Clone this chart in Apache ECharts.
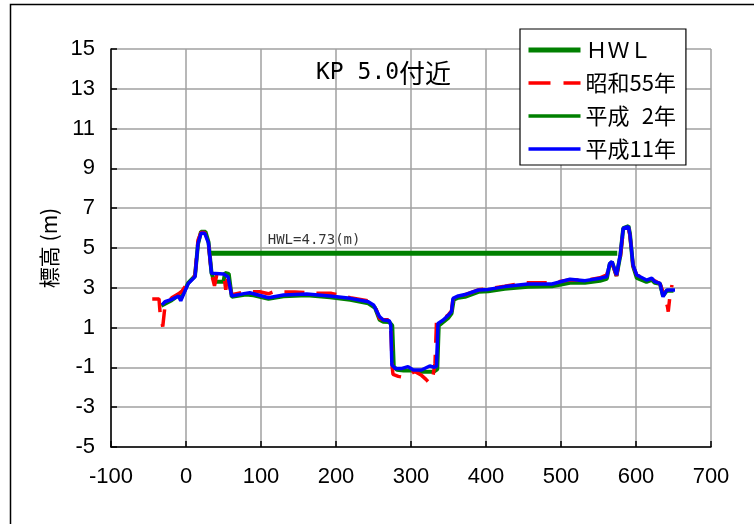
<!DOCTYPE html>
<html>
<head>
<meta charset="utf-8">
<script src="https://cdn.jsdelivr.net/npm/echarts@6/dist/echarts.min.js"></script>
<style>html,body{margin:0;padding:0;background:#fff}#c{width:754px;height:524px}</style>
</head>
<body>
<div id="c"></div>
<script>
var xTicks = {min: -100, max: 700, step: 100};
var yTicks = {min: -5, max: 15, step: 2};

var hwlX = [33, 575];
var hwlY = [4.73, 4.73];
var hwlLabelPos = [109, 5.40];

var s55X = [-45, -36, -34.5, -31, -30, -28, -19, -10, -5, 3, 12, 16, 20, 25, 30, 34, 36, 38, 41, 48, 51, 53, 55, 57, 61, 80, 98, 110, 116, 145, 174, 194, 219, 243, 252, 258, 263, 271, 273, 275, 276, 283, 290, 296, 305, 314, 320, 325, 329, 332, 334, 343, 350, 354, 356, 363, 372, 390, 403, 425, 453, 490, 512, 532, 552, 561, 565, 568, 574, 579, 583, 590, 592, 596, 601, 614, 621, 625, 632, 638, 642, 643, 645, 648];
var s55Y = [2.44, 2.44, 1.72, 1.05, 1.10, 2.09, 2.50, 2.70, 2.85, 3.30, 3.60, 5.40, 5.78, 5.78, 5.20, 3.70, 3.60, 3.10, 3.65, 3.65, 3.50, 2.90, 3.60, 3.50, 2.65, 2.80, 2.80, 2.70, 2.79, 2.79, 2.72, 2.72, 2.50, 2.35, 2.10, 1.45, 1.40, 1.40, 1.10, -1.00, -1.35, -1.45, -1.50, -1.40, -1.20, -1.40, -1.60, -1.80, -1.50, -0.80, 1.30, 1.45, 1.65, 1.85, 2.45, 2.55, 2.65, 2.90, 2.95, 3.08, 3.26, 3.26, 3.40, 3.38, 3.50, 3.65, 4.20, 4.25, 3.60, 4.50, 5.90, 6.00, 5.60, 4.10, 3.65, 3.40, 3.45, 3.35, 3.20, 2.60, 2.05, 1.80, 2.50, 3.14];

var h2X = [-33, -19, -10, -7, 3, 12, 16, 20, 26, 30, 34, 38, 50, 52, 57, 61, 80, 90, 110, 130, 161, 192, 219, 243, 252, 258, 263, 271, 275, 277, 281, 290, 300, 314, 330, 335, 337, 343, 350, 354, 357, 363, 372, 390, 403, 425, 456, 488, 512, 532, 552, 561, 565, 568, 574, 579, 583, 590, 592, 596, 601, 614, 621, 625, 632, 636, 641, 650];
var h2Y = [2.10, 2.38, 2.62, 2.45, 3.25, 3.60, 5.20, 5.82, 5.82, 5.30, 3.75, 3.30, 3.30, 3.75, 3.70, 2.55, 2.66, 2.62, 2.45, 2.58, 2.62, 2.52, 2.40, 2.22, 2.00, 1.40, 1.30, 1.28, 1.10, -0.95, -1.12, -1.15, -1.15, -1.22, -1.22, -1.10, 1.10, 1.28, 1.50, 1.70, 2.40, 2.50, 2.55, 2.80, 2.83, 2.95, 3.05, 3.08, 3.25, 3.25, 3.35, 3.45, 4.20, 4.30, 3.60, 4.60, 6.00, 6.10, 5.70, 4.10, 3.50, 3.30, 3.40, 3.25, 3.20, 2.60, 2.85, 2.85];

var h11X = [-32, -28, -19, -10, -7, 3, 12, 16, 20, 25, 30, 34, 50, 56, 61, 79, 85, 110, 130, 161, 192, 219, 243, 250, 258, 263, 271, 273, 274.5, 279, 288, 296, 303, 314, 325, 330, 334, 336, 343, 350, 354, 356, 363, 372, 390, 403, 425, 456, 488, 512, 532, 552, 561, 565, 568, 574, 579, 583, 590, 592, 596, 601, 614, 621, 625, 632, 636, 641, 652];
var h11Y = [2.14, 2.30, 2.42, 2.59, 2.35, 3.22, 3.56, 5.24, 5.74, 5.74, 5.24, 3.73, 3.69, 3.56, 2.59, 2.72, 2.75, 2.50, 2.64, 2.69, 2.59, 2.47, 2.30, 2.14, 1.55, 1.38, 1.35, 1.13, -0.88, -1.05, -1.05, -0.96, -1.13, -1.13, -0.93, -0.99, -0.96, 1.21, 1.38, 1.63, 1.80, 2.47, 2.59, 2.66, 2.89, 2.92, 3.06, 3.19, 3.19, 3.43, 3.36, 3.48, 3.56, 4.23, 4.31, 3.64, 4.65, 5.99, 6.07, 5.65, 4.15, 3.64, 3.39, 3.48, 3.31, 3.22, 2.55, 2.89, 2.89];

var names = ['ＨＷＬ', '昭和55年', '平成\u20072年', '平成11年'];

function zip(xs, ys) { return xs.map(function (x, i) { return [x, ys[i]]; }); }

var chart = echarts.init(document.getElementById('c'), null, {renderer: 'canvas'});
var axisFont = 'Liberation Sans, Arial, sans-serif';
var gridColor = '#a0a0a0';

chart.setOption({
  animation: false,
  backgroundColor: '#fff',
  title: {
    text: '{a|KP 5.0}{b|付近}',
    left: 311, top: 55,
    textStyle: {
      fontWeight: 'normal',
      rich: {
        a: {fontFamily: 'DejaVu Sans Mono', fontSize: 23, fontWeight: 'normal', color: '#000'},
        b: {fontFamily: 'Noto Sans CJK JP', fontSize: 26, fontWeight: 'normal', color: '#000'}
      }
    }
  },
  graphic: [{
    type: 'rect', left: 8, top: 2, silent: true,
    shape: {x: 0, y: 0, width: 800, height: 600},
    style: {fill: 'none', stroke: '#000', lineWidth: 1.5}
  }],
  legend: {
    data: [
      {name: names[0], lineStyle: {width: 5, color: '#008000'}},
      {name: names[1], lineStyle: {width: 3.5, color: '#ff0000', type: [22, 13]}},
      {name: names[2], lineStyle: {width: 3.5, color: '#008000'}},
      {name: names[3], lineStyle: {width: 3.5, color: '#0000ff'}}
    ],
    orient: 'vertical',
    left: 520, top: 29,
    padding: [10, 10, 5, 6],
    itemGap: 11,
    itemWidth: 52, itemHeight: 14,
    itemStyle: {opacity: 0},
    backgroundColor: '#fff',
    borderColor: '#000', borderWidth: 1.2, borderRadius: 0,
    textStyle: {fontFamily: 'Noto Sans CJK JP', fontSize: 22, color: '#000', lineHeight: 20},
    selectedMode: false
  },
  grid: {left: 111, right: 43, top: 49, bottom: 77, containLabel: false},
  xAxis: {
    type: 'value', min: xTicks.min, max: xTicks.max, interval: xTicks.step,
    axisLine: {show: true, onZero: false, lineStyle: {color: '#000', width: 1.5}},
    axisTick: {show: true, inside: true, length: 6, lineStyle: {color: '#000', width: 1.5}},
    axisLabel: {fontFamily: axisFont, fontSize: 22, color: '#000', margin: 19},
    splitLine: {show: true, lineStyle: {color: gridColor, width: 1.5}}
  },
  yAxis: {
    type: 'value', min: yTicks.min, max: yTicks.max, interval: yTicks.step,
    name: '標高 (m)', nameLocation: 'middle', nameGap: 50, nameRotate: 90,
    nameTextStyle: {fontFamily: 'Noto Sans CJK JP', fontSize: 21, color: '#000'},
    axisLine: {show: true, onZero: false, lineStyle: {color: '#000', width: 1.5}},
    axisTick: {show: true, inside: true, length: 6, lineStyle: {color: '#000', width: 1.5}},
    axisLabel: {fontFamily: axisFont, fontSize: 22, color: '#000', margin: 16},
    splitLine: {show: true, lineStyle: {color: gridColor, width: 1.5}}
  },
  series: [
    {
      name: names[0], type: 'line', data: zip(hwlX, hwlY), symbol: 'none',
      lineStyle: {color: '#008000', width: 5}, itemStyle: {color: '#008000'}
    },
    {
      name: names[2], type: 'line', data: zip(h2X, h2Y), symbol: 'none',
      lineStyle: {color: '#008000', width: 4}, itemStyle: {color: '#008000'}
    },
    {
      name: names[1], type: 'line', data: zip(s55X, s55Y), symbol: 'none',
      lineStyle: {color: '#ff0000', width: 3.5, type: [20, 12]}, itemStyle: {color: '#ff0000'}
    },
    {
      name: names[3], type: 'line', data: zip(h11X, h11Y), symbol: 'none',
      lineStyle: {color: '#0000ff', width: 3.5}, itemStyle: {color: '#0000ff'}
    },
    {
      name: 'hwlLabel', type: 'scatter', data: [hwlLabelPos], symbolSize: 0, silent: true,
      label: {
        show: true, position: [0, 0], align: 'left', verticalAlign: 'middle',
        formatter: 'HWL=4.73(m)',
        fontFamily: 'DejaVu Sans Mono', fontSize: 14, color: '#000'
      }
    }
  ]
});
</script>
</body>
</html>
